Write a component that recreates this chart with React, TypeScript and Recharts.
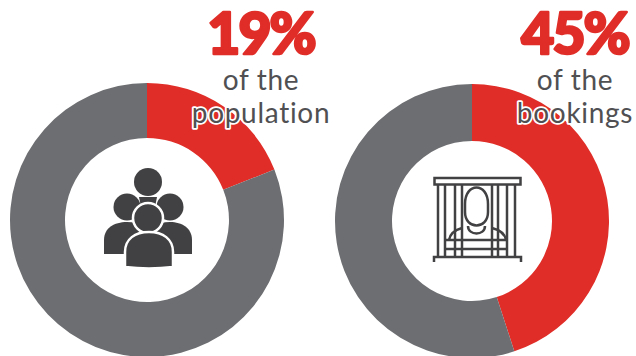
import { Cell, Pie, PieChart } from 'recharts';

const CHART_WIDTH = 636;
const CHART_HEIGHT = 356;

const populationShare = [19, 81];
const bookingsShare = [45, 55];
const sliceColors = ['#E02D27', '#6D6E71'];

const toRows = (values: number[]) => values.map((value) => ({ value }));

function Headline({ x, big, lines }: { x: number; big: string; lines: string[] }) {
  return (
    <g textAnchor="middle">
      <text
        x={x}
        y={54}
        fontFamily="Lato"
        fontWeight={900}
        fontSize={57}
        letterSpacing={-2}
        fill="#E02D27"
        stroke="#E02D27"
        strokeWidth={2.6}
        strokeLinejoin="round"
      >
        {big}
      </text>
      {lines.map((line, i) => (
        <text
          key={line}
          x={x}
          y={90 + i * 33}
          fontFamily="Lato"
          fontWeight={400}
          fontSize={28}
          letterSpacing={0.7}
          fill="#505053"
          stroke="#fff"
          strokeWidth={3.5}
          strokeLinejoin="round"
          style={{ paintOrder: 'stroke' }}
        >
          {line}
        </text>
      ))}
    </g>
  );
}

// Group of four people, drawn back to front with white outlines between them
function PeopleIcon() {
  const ink = '#414042';
  return (
    <g fill={ink}>
      <circle cx={148} cy={182} r={14} />
      <path d="M139 197 h18 l-2 10 h-14 z" />
      <path d="M104 254 v-14 c0 -12 10 -18 23 -18 c13 0 21 6 21 18 v14 z" />
      <path d="M192 254 v-14 c0 -12 -10 -18 -22 -18 c-13 0 -22 6 -22 18 v14 z" />
      <circle cx={127} cy={207} r={13.5} />
      <circle cx={170} cy={207} r={13.5} />
      <circle cx={148} cy={218} r={15} stroke="#fff" strokeWidth={2.5} />
      <path
        d="M125 267 v-15 c0 -13 10 -20 24 -20 c14 0 24 7 24 20 v15 q-24 3 -48 0 z"
        stroke="#fff"
        strokeWidth={2.5}
      />
    </g>
  );
}

// Figure behind prison bars, line art only
function JailIcon() {
  const barXs = [438, 445, 455, 462, 492, 498, 507, 515];
  return (
    <g fill="none" stroke="#414042" strokeWidth={2.5}>
      <rect x={434.5} y={178} width={86} height={6.5} />
      {barXs.map((x) => (
        <line key={x} x1={x} y1={185} x2={x} y2={257} />
      ))}
      <path d="M434 262 v-5 h87 v5" />
      <path d="M465 204 c0 -22 23 -22 23 0 v8 c0 18 -23 18 -23 0 z" />
      <path d="M468 226 c0 10 17 10 17 0" />
      <path d="M449 240 c1 -6 6 -10 13 -12 M506 240 c-1 -6 -6 -10 -14 -12" />
      <path d="M445 240 h17 M445 249 h17 M462 240 h30 M462 249 h30 M492 240 h15 M492 249 h15" />
    </g>
  );
}

export default function App() {
  return (
    <div
      style={{
        position: 'absolute',
        left: 0,
        top: 0,
        width: CHART_WIDTH,
        height: CHART_HEIGHT,
        overflow: 'hidden',
        background: '#fff',
      }}
    >
      <PieChart width={CHART_WIDTH} height={CHART_HEIGHT} margin={{ top: 0, right: 0, bottom: 0, left: 0 }}>
        <Pie
          data={toRows(populationShare)}
          dataKey="value"
          cx={147}
          cy={220}
          innerRadius={82}
          outerRadius={137}
          startAngle={90}
          endAngle={-270}
          stroke="none"
          isAnimationActive={false}
        >
          {populationShare.map((_, i) => (
            <Cell key={i} fill={sliceColors[i]} />
          ))}
        </Pie>
        <Pie
          data={toRows(bookingsShare)}
          dataKey="value"
          cx={472}
          cy={221}
          innerRadius={80}
          outerRadius={137}
          startAngle={90}
          endAngle={-270}
          stroke="none"
          isAnimationActive={false}
        >
          {bookingsShare.map((_, i) => (
            <Cell key={i} fill={sliceColors[i]} />
          ))}
        </Pie>
      </PieChart>
      {/* Icons and captions sit above the rings, which Recharts paints last inside its own svg */}
      <svg
        width={CHART_WIDTH}
        height={CHART_HEIGHT}
        style={{ position: 'absolute', left: 0, top: 0 }}
      >
        <PeopleIcon />
        <JailIcon />
        <Headline x={261} big="19%" lines={['of the', 'population']} />
        <Headline x={575} big="45%" lines={['of the', 'bookings']} />
      </svg>
    </div>
  );
}
